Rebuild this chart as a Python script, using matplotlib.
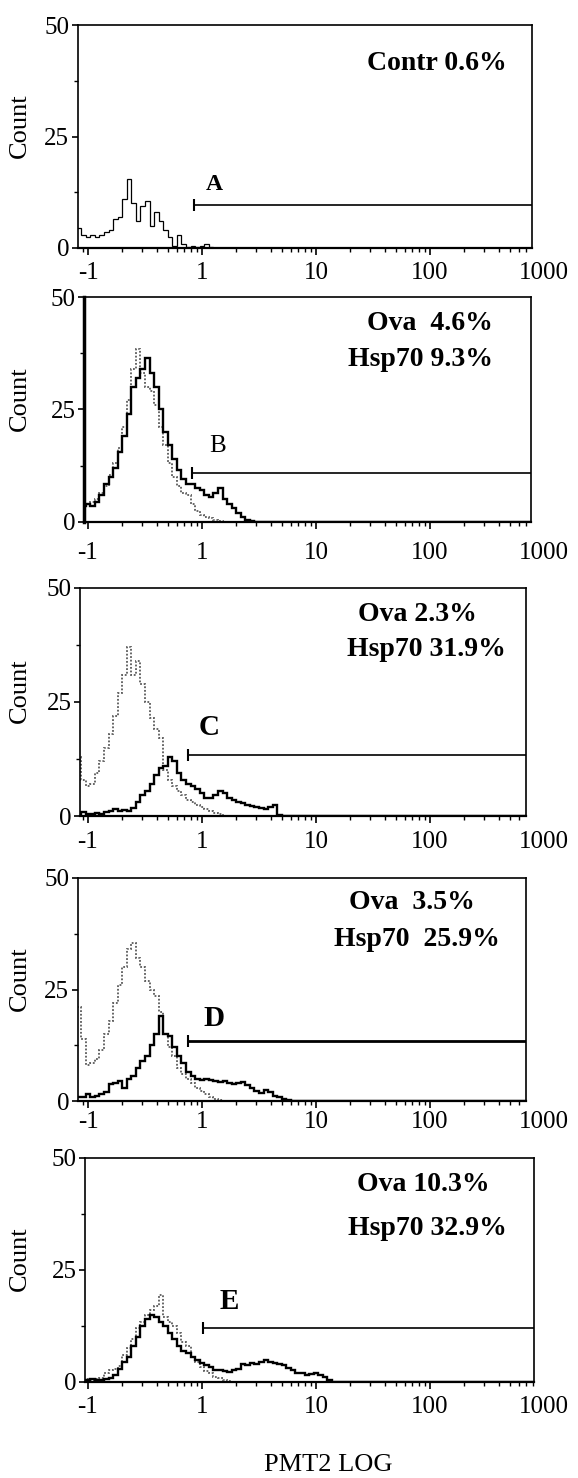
import numpy as np
import matplotlib.pyplot as plt

plt.rcParams['font.family'] = ['Liberation Serif', 'DejaVu Serif']

# Histogrammwerte (Count) je Kanal, Kanalbreite 0.04 Dekaden ab 10^-1.1
a_line = [4.5, 3, 2.5, 3, 2.5, 3, 3.5, 4, 6.5, 7, 11, 15.5, 10, 6, 9.5, 10.5, 5, 8, 6, 4,
          2.5, 0.5, 3, 1, 0.3, 0.4, 0.2, 0.5, 0.8, 0.3]

b_solid = [3.5, 3.5, 4, 3.5, 4.5, 6, 8.5, 10, 12, 15.5, 19, 24, 30, 32, 34, 36.5, 33, 30, 25, 20,
           17, 14, 11.5, 9.5, 8.5, 8.5, 7.5, 7, 6, 5.5, 6.5, 7.5, 5, 4, 3, 2, 1.2, 0.5, 0.3]
b_dotted = [4, 3.5, 4, 4.5, 5, 6.5, 8, 10.5, 13, 16.5, 21, 27, 34, 38.5, 33, 30, 29, 26, 21, 17,
            13, 10, 8, 6.5, 6, 4, 2.5, 1.5, 1, 0.8, 0.5, 0.3]

c_solid = [0.5, 0.8, 0.5, 0.4, 0.6, 0.5, 0.8, 1.2, 1.5, 1.2, 1.3, 1.0, 1.7, 3, 4.5, 5.5, 7, 9, 10.5, 11,
           13, 12, 9.5, 8, 7, 6.5, 6, 5, 4, 4, 4.5, 5.5, 5, 4, 3.5, 3, 2.8, 2.5, 2.3, 2,
           1.8, 1.5, 2, 2.5, 0.3]
c_dotted = [13, 8, 6.5, 7, 9.5, 12, 15, 18, 22, 27, 31, 37, 31, 34, 29, 25, 21.5, 19, 17, 10,
            8, 6.5, 5.5, 4.5, 3.5, 3, 2.5, 2, 1.5, 1, 0.6, 0.4]

d_solid = [1, 0.8, 1.5, 1, 1.2, 1.5, 2, 3.8, 4, 4.5, 3, 5, 5.5, 7.5, 9, 10, 12.5, 15, 19, 15,
           14.5, 12, 10, 8.5, 6.5, 5.5, 5, 4.7, 5, 4.8, 4.5, 4.3, 4.5, 4, 3.8, 4, 4.3, 3.5, 3, 2.2,
           1.8, 2.4, 2, 1.2, 0.9, 0.5, 0.2]
d_dotted = [21, 14, 8, 8.5, 9.5, 11.5, 15, 18, 22, 26, 30, 34, 35.5, 32, 30, 27, 25, 23.5, 20, 15,
            12, 10, 7.5, 6, 5, 4, 3, 2.2, 1.5, 1, 0.5, 0.2]

e_solid = [0.5, 0.4, 0.5, 0.6, 0.4, 0.5, 0.7, 1.0, 1.5, 3, 4.5, 5.5, 8, 10, 12.5, 14, 15, 14.5, 13.5, 12.5,
           11, 9.5, 8, 7, 6.5, 5.5, 4.9, 4.2, 3.8, 3.4, 2.6, 2.6, 2.4, 2.3, 2.6, 3, 4, 3.8, 4.2, 4,
           4.5, 4.9, 4.5, 4.2, 4.1, 3.8, 3.2, 2.6, 2, 1.9, 1.5, 1.7, 1.9, 1.5, 1.2, 0.5]
e_dotted = [0.5, 0.4, 0.6, 0.5, 0.6, 1, 1.9, 2.6, 2.8, 3.5, 6, 7.5, 9.5, 12, 13.5, 15, 16, 17, 19.5, 14.5,
            13.5, 12.5, 11, 9, 8, 5.5, 4.5, 3.4, 2.5, 1.9, 1.2, 0.8, 0.5, 0.3]

# Beschriftungen
gate_names = ["A", "B", "C", "D", "E"]
gate_levels = [9.55, 10.9, 13.4, 13.5, 12.0]
texts = [["Contr 0.6%"],
         ["Ova  4.6%", "Hsp70 9.3%"],
         ["Ova 2.3%", "Hsp70 31.9%"],
         ["Ova  3.5%", "Hsp70  25.9%"],
         ["Ova 10.3%", "Hsp70 32.9%"]]
tick_vals = [0.1, 1, 10, 100, 1000]
tick_labels = ["-1", "1", "10", "100", "1000"]

solids = [a_line, b_solid, c_solid, d_solid, e_solid]
dotteds = [None, b_dotted, c_dotted, d_dotted, e_dotted]

W, H = 578, 1478


def px2x(px):
    # Pixelposition -> Achsenwert (114 px pro Dekade, 0.1 bei 88 px)
    return 10 ** ((px - 88) / 114 - 1)


# Achsenpositionen in Pixeln: links, rechts, oben, unten
boxes = [(77.5, 532, 25, 248), (84, 531, 297, 522), (80, 526, 588, 816),
         (77.6, 526, 878, 1101), (85, 534, 1158, 1382)]
gate_px = [194, 192, 188, 188, 203]
label_pos = [(214, 14.2), (218, 16.8), (209, 19.3), (214, 18.6), (229, 18.0)]
label_style = [(17, "bold"), (18, "normal"), (21, "bold"), (21, "bold"), (21, "bold")]
text_pos = [[(437, 41.4)], [(493, 44.2), (493, 36.0)], [(417, 44.1), (426, 36.5)],
            [(412, 44.5), (417, 36.2)], [(423, 44.0), (427, 34.2)]]
text_ha = ["center", "right", "center", "center", "center"]
tick_off = [25, 31, 26, 21, 25]

fig = plt.figure(figsize=(W / 100, H / 100), dpi=100)

for i in range(5):
    l, r, t, b = boxes[i]
    ax = fig.add_axes([l / W, 1 - b / H, (r - l) / W, (b - t) / H])
    xmin, xmax = px2x(l), px2x(r)

    if dotteds[i] is not None:
        vals = dotteds[i]
        edges = 10 ** (-1.10 + 0.04 * np.arange(len(vals) + 1))
        ax.stairs(list(vals) + [0], list(edges) + [1e4], baseline=None,
                  color="#5a5a5a", lw=1.3, linestyle=(0, (1, 1)))
    vals = solids[i]
    edges = 10 ** (-1.10 + 0.04 * np.arange(len(vals) + 1))
    ax.stairs(list(vals) + [0], list(edges) + [1e4], baseline=None,
              color="black", lw=0.9 if i == 0 else 1.7)

    # Gate
    g = gate_levels[i]
    ax.plot([px2x(gate_px[i]), xmax], [g, g], color="black", lw=2.0 if i == 3 else 1.2)
    ax.plot([px2x(gate_px[i])], [g], marker="|", ms=8, mew=1.5, color="black")
    fs, fw = label_style[i]
    ax.text(px2x(label_pos[i][0]), label_pos[i][1], gate_names[i],
            fontsize=fs, fontweight=fw, ha="center", va="center")

    for txt, (px, yv) in zip(texts[i], text_pos[i]):
        ax.text(px2x(px), yv, txt, fontsize=20, fontweight="bold",
                ha=text_ha[i], va="center")

    ax.set_xscale("log")
    ax.set_xlim(xmin, xmax)
    ax.set_ylim(0, 50)
    ax.set_yticks([0, 25, 50])
    ax.set_yticks([12.5, 37.5], minor=True)
    ax.set_xticks([0.1, 1, 10, 100])
    ax.set_xticklabels([])
    ax.tick_params(axis="x", which="major", direction="out", length=5, width=1.2)
    ax.tick_params(axis="x", which="minor", direction="out", length=3, width=1.0)
    ax.tick_params(axis="y", which="major", direction="out", length=4, width=1.2,
                   labelsize=18, pad=2)
    ax.tick_params(axis="y", which="minor", direction="out", length=3, width=1.0)
    for sp in ax.spines.values():
        sp.set_linewidth(1.2)
    ax.spines["bottom"].set_linewidth(1.6)
    if i == 1:
        ax.spines["left"].set_linewidth(2.5)

    for tv, tl in zip(tick_vals, tick_labels):
        ax.annotate(tl, xy=(tv, 0), xycoords=("data", "axes fraction"),
                    xytext=(0, -tick_off[i] * 0.72), textcoords="offset points",
                    ha="center", va="center", fontsize=18, annotation_clip=False)

    ax.set_ylabel("Count", fontsize=19)
    ax.yaxis.set_label_coords((31 - l) / (r - l), 0.55)

fig.text(328 / W, 1 - 1465 / H, "PMT2 LOG", fontsize=19, ha="center", va="center")

fig.savefig("out.png", dpi=100)
